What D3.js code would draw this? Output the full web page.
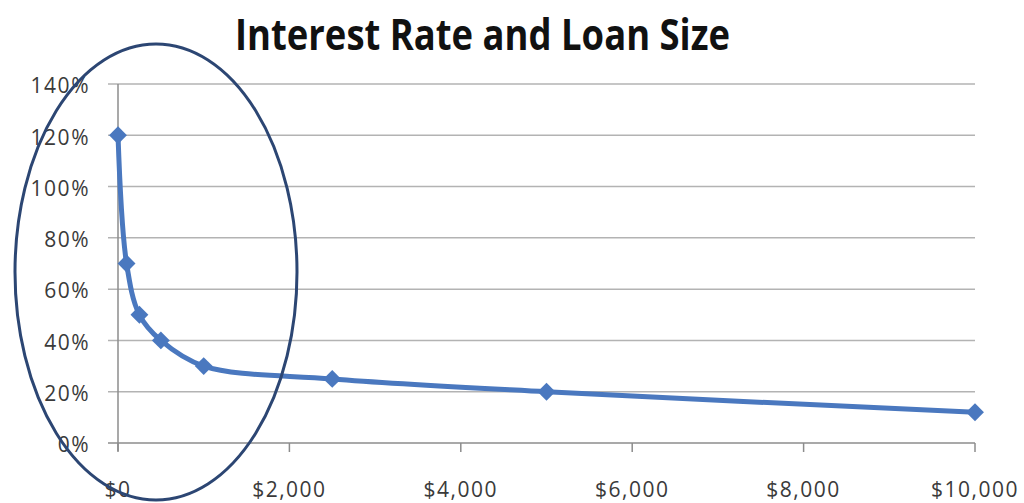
<!DOCTYPE html>
<html>
<head>
<meta charset="utf-8">
<script src="https://cdn.jsdelivr.net/npm/d3@7"></script>
<style>
  html, body { margin: 0; padding: 0; background: #fff; }
  svg { display: block; }
</style>
</head>
<body>
<svg id="chart"></svg>
<script>
// data
const loanSizes = [0, 100, 250, 500, 1000, 2500, 5000, 10000];
const interestRates = [1.20, 0.70, 0.50, 0.40, 0.30, 0.25, 0.20, 0.12];
const yTicks = [0, 0.2, 0.4, 0.6, 0.8, 1.0, 1.2, 1.4];
const xTicks = [0, 2000, 4000, 6000, 8000, 10000];

const width = 1024;
const height = 503;
const margin = { top: 84, right: 49, bottom: 60, left: 118 };

const svg = d3.select("#chart").attr("width", width).attr("height", height);

const x = d3.scaleLinear().domain([0, 10000]).range([margin.left, width - margin.right]);
const y = d3.scaleLinear().domain([0, 1.4]).range([height - margin.bottom, margin.top]);

// title
svg.append("text")
  .attr("x", 235)
  .attr("y", 50)
  .attr("textLength", 495)
  .attr("lengthAdjust", "spacingAndGlyphs")
  .attr("font-family", "'Open Sans', sans-serif")
  .attr("font-weight", "bold")
  .attr("font-size", "43px")
  .attr("fill", "#111")
  .text("Interest Rate and Loan Size");

// gridlines
svg.append("g")
  .selectAll("line")
  .data(yTicks)
  .join("line")
  .attr("x1", margin.left - 10)
  .attr("x2", x(10000))
  .attr("y1", d => y(d))
  .attr("y2", d => y(d))
  .attr("stroke", d => d === 0 ? "#8c8c8c" : "#b3b3b3")
  .attr("stroke-width", 1.5);

// y axis line
svg.append("line")
  .attr("x1", margin.left).attr("x2", margin.left)
  .attr("y1", y(1.4)).attr("y2", y(0) + 8)
  .attr("stroke", "#8c8c8c")
  .attr("stroke-width", 1.5);

// x tick marks
svg.append("g")
  .selectAll("line")
  .data(xTicks)
  .join("line")
  .attr("x1", d => x(d)).attr("x2", d => x(d))
  .attr("y1", y(0)).attr("y2", y(0) + 9)
  .attr("stroke", "#8c8c8c")
  .attr("stroke-width", 1.5);

// y labels
svg.append("g")
  .selectAll("text")
  .data(yTicks)
  .join("text")
  .attr("x", 90)
  .attr("y", d => y(d) + 2)
  .attr("dy", "0.35em")
  .attr("text-anchor", "end")
  .attr("font-family", "'Open Sans', sans-serif")
  .attr("font-size", "21px")
  .attr("letter-spacing", "1.5px")
  .attr("fill", "#3a3a3a")
  .text(d => d3.format(".0%")(d));

// x labels
svg.append("g")
  .selectAll("text")
  .data(xTicks)
  .join("text")
  .attr("x", d => x(d))
  .attr("y", 497)
  .attr("text-anchor", "middle")
  .attr("font-family", "'Open Sans', sans-serif")
  .attr("font-size", "21px")
  .attr("letter-spacing", "1.5px")
  .attr("fill", "#3a3a3a")
  .text(d => d3.format("$,")(d));

// smoothed series line
const points = loanSizes.map((v, i) => [v, interestRates[i]]);
const line = d3.line()
  .x(d => x(d[0]))
  .y(d => y(d[1]))
  .curve(d3.curveCatmullRom.alpha(0.5));

svg.append("path")
  .datum(points)
  .attr("d", line)
  .attr("fill", "none")
  .attr("stroke", "#4a78bf")
  .attr("stroke-width", 5)
  .attr("stroke-linejoin", "round");

// diamond markers
svg.append("g")
  .selectAll("path")
  .data(points)
  .join("path")
  .attr("transform", d => `translate(${x(d[0])},${y(d[1])}) rotate(45)`)
  .attr("d", d3.symbol().type(d3.symbolSquare).size(160))
  .attr("fill", "#4a78bf");

// hand-drawn highlight ellipse
svg.append("ellipse")
  .attr("cx", 156)
  .attr("cy", 272)
  .attr("rx", 141)
  .attr("ry", 228)
  .attr("fill", "none")
  .attr("stroke", "#2c4673")
  .attr("stroke-width", 3);
</script>
</body>
</html>
